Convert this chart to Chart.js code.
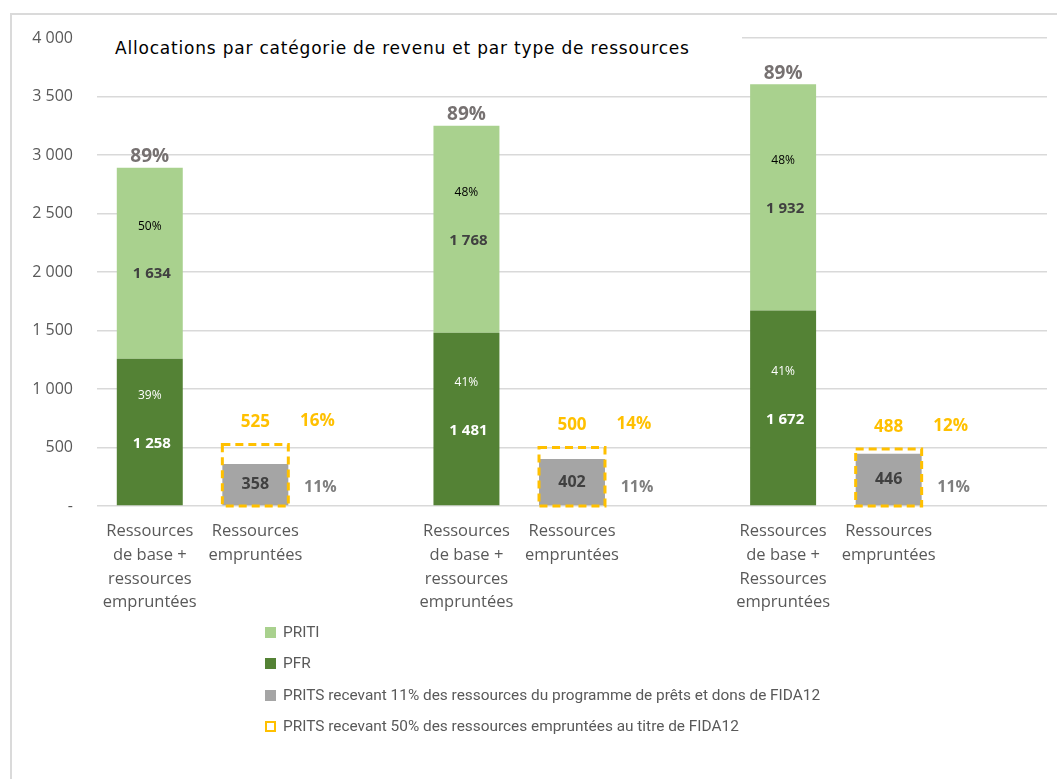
<!DOCTYPE html>
<html><head><meta charset="utf-8">
<script src="https://cdn.jsdelivr.net/npm/chart.js@4/dist/chart.umd.min.js"></script>
<style>
html,body{margin:0;padding:0;background:#fff;}
#wrap{position:relative;width:1057px;height:779px;overflow:hidden;font-family:"Open Sans",sans-serif;}
#frame{position:absolute;left:10px;top:13px;width:1100px;height:800px;border:2px solid #dadada;box-sizing:border-box;}
#c{position:absolute;left:0;top:0;}
#title{position:absolute;left:97px;top:35px;width:645px;height:26px;background:#fff;color:#000;font-family:"DejaVu Sans",sans-serif;font-size:17px;letter-spacing:0.8px;line-height:26px;padding-left:18px;box-sizing:border-box;white-space:nowrap;}
#legend{position:absolute;left:264px;top:620px;color:#595959;font-family:Roboto,sans-serif;font-size:15.4px;}
.li{position:absolute;left:0;height:24px;line-height:24px;white-space:nowrap;}
.sw{position:absolute;left:1px;top:7px;width:11px;height:11px;}
.tx{position:absolute;left:19px;top:0;}
</style></head>
<body>
<div id="wrap">
  <div id="frame"></div>
  <canvas id="c" width="1057" height="779"></canvas>
  <div id="title">Allocations par catégorie de revenu et par type de ressources</div>
  <div id="legend"></div>
</div>
<script>
// ---- data ----
const baseLabels = [
  ['Ressources', 'de base +', 'ressources', 'empruntées'],
  ['Ressources', 'de base +', 'ressources', 'empruntées'],
  ['Ressources', 'de base +', 'Ressources', 'empruntées']
];
const borrowedLabel = ['Ressources', 'empruntées'];
const pfr = [1258, 1481, 1672];
const priti = [1634, 1768, 1932];
const prits11 = [358, 402, 446];
const prits50 = [525, 500, 488];
const pctPfr = ['39%', '41%', '41%'];
const pctPriti = ['50%', '48%', '48%'];
const pctTotal = ['89%', '89%', '89%'];
const pct50 = ['16%', '14%', '12%'];
const pct11 = ['11%', '11%', '11%'];
const yTickLabels = ['-', '500', '1 000', '1 500', '2 000', '2 500', '3 000', '3 500', '4 000'];
const seriesNames = [
  'PRITI',
  'PFR',
  'PRITS recevant 11% des ressources du programme de prêts et dons de FIDA12',
  'PRITS recevant 50% des ressources empruntées au titre de FIDA12'
];
const colors = { priti: '#A9D18E', pfr: '#548235', gray: '#A5A5A5', yellow: '#FFC000' };

// ---- build slot arrays (3 slots per group: base, borrowed, spacer) ----
const labels = [], dPfr = [], dPriti = [], d11 = [], d50 = [];
for (let g = 0; g < pfr.length; g++) {
  labels.push(baseLabels[g], borrowedLabel, '');
  dPfr.push(pfr[g], null, null);
  dPriti.push(priti[g], null, null);
  d11.push(null, prits11[g], null);
  d50.push(null, prits50[g], null);
}
const fmt = v => String(v).replace(/\B(?=(\d{3})+(?!\d))/g, ' ');
const FONT = '"Open Sans", sans-serif';

function txt(ctx, s, x, y, size, color, bold) {
  ctx.font = (bold ? 'bold ' : '') + size + 'px ' + FONT;
  ctx.fillStyle = color;
  ctx.textAlign = 'center';
  ctx.textBaseline = 'middle';
  ctx.fillText(s, x, y);
}

const labelPlugin = {
  id: 'customLabels',
  afterDatasetsDraw(chart) {
    const ctx = chart.ctx;
    const yS = chart.scales.y;
    const mPfr = chart.getDatasetMeta(0), mPriti = chart.getDatasetMeta(1);
    const m11 = chart.getDatasetMeta(2), m50 = chart.getDatasetMeta(3);
    ctx.save();
    // dashed boxes
    ctx.strokeStyle = colors.yellow; ctx.lineWidth = 3; ctx.setLineDash([8, 5]);
    m50.data.forEach((el, i) => {
      if (d50[i] == null) return;
      const p = el.getProps(['x', 'y', 'base', 'width'], true);
      ctx.strokeRect(p.x - p.width / 2, p.y, p.width, p.base - p.y);
    });
    ctx.setLineDash([]);
    for (let g = 0; g < pfr.length; g++) {
      const a = mPfr.data[3 * g].getProps(['x', 'y', 'base'], true);
      const b = mPriti.data[3 * g].getProps(['x', 'y', 'base'], true);
      const c = m11.data[3 * g + 1].getProps(['x', 'y', 'base'], true);
      const d = m50.data[3 * g + 1].getProps(['x', 'y', 'base'], true);
      const ca = (a.y + a.base) / 2, cb = (b.y + b.base) / 2;
      txt(ctx, fmt(pfr[g]), a.x + 2, ca + 12, 15, '#FFFFFF', true);
      txt(ctx, pctPfr[g], a.x, ca - 36, 12, '#FFFFFF', false);
      txt(ctx, fmt(priti[g]), b.x + 2, cb + 11, 15, '#404040', true);
      txt(ctx, pctPriti[g], b.x, cb - 37, 12, '#000000', false);
      txt(ctx, pctTotal[g], b.x, b.y - 11, 19, '#767171', true);
      txt(ctx, fmt(prits11[g]), c.x, (c.y + c.base) / 2, 16, '#404040', true);
      txt(ctx, pct11[g], c.x + 65, yS.getPixelForValue(0) - 19, 16, '#7F7F7F', true);
      txt(ctx, fmt(prits50[g]), d.x, d.y - 22, 17, colors.yellow, true);
      txt(ctx, pct50[g], d.x + 62, d.y - 23, 17, colors.yellow, true);
    }
    ctx.restore();
  }
};

new Chart(document.getElementById('c'), {
  type: 'bar',
  data: {
    labels: labels,
    datasets: [
      { label: seriesNames[1], data: dPfr, backgroundColor: colors.pfr, stack: 'all', yAxisID: 'y' },
      { label: seriesNames[0], data: dPriti, backgroundColor: colors.priti, stack: 'all', yAxisID: 'y' },
      { label: seriesNames[2], data: d11, backgroundColor: colors.gray, stack: 'all', yAxisID: 'y' },
      { label: seriesNames[3], data: d50, backgroundColor: 'rgba(0,0,0,0)', stack: 'all', yAxisID: 'y2' }
    ]
  },
  options: {
    responsive: false,
    animation: false,
    barPercentage: 0.625,
    categoryPercentage: 1,
    layout: { padding: { top: 38, right: 10, left: 0, bottom: 0 } },
    plugins: { legend: { display: false }, tooltip: { enabled: false }, title: { display: false } },
    scales: {
      x: {
        stacked: true,
        grid: { display: false, drawTicks: false },
        border: { display: false },
        ticks: { color: '#595959', font: { family: FONT, size: 16.5, lineHeight: 1.45 }, padding: 13, maxRotation: 0, autoSkip: false },
        afterFit: s => { s.height = 273; }
      },
      y: {
        stacked: true, min: 0, max: 4000,
        grid: { color: '#D9D9D9', lineWidth: 1.5, drawTicks: false },
        border: { display: false },
        ticks: { stepSize: 500, color: '#595959', font: { family: FONT, size: 16 }, padding: 24,
          callback: v => yTickLabels[Math.round(v / 500)] },
        afterFit: s => { s.width = 97; }
      },
      y2: { display: false, min: 0, max: 4000, stacked: false }
    }
  },
  plugins: [labelPlugin]
});

// ---- HTML legend ----
const leg = document.getElementById('legend');
const swatches = [
  'background:' + colors.priti,
  'background:' + colors.pfr,
  'background:' + colors.gray,
  'border:2.5px dashed ' + colors.yellow + ';box-sizing:border-box;background:#fff'
];
seriesNames.forEach((n, i) => {
  const d = document.createElement('div');
  d.className = 'li';
  d.style.top = (i * 31.3) + 'px';
  d.innerHTML = '<span class="sw" style="' + swatches[i] + '"></span><span class="tx"></span>';
  d.querySelector('.tx').textContent = n;
  leg.appendChild(d);
});
</script>
</body></html>
